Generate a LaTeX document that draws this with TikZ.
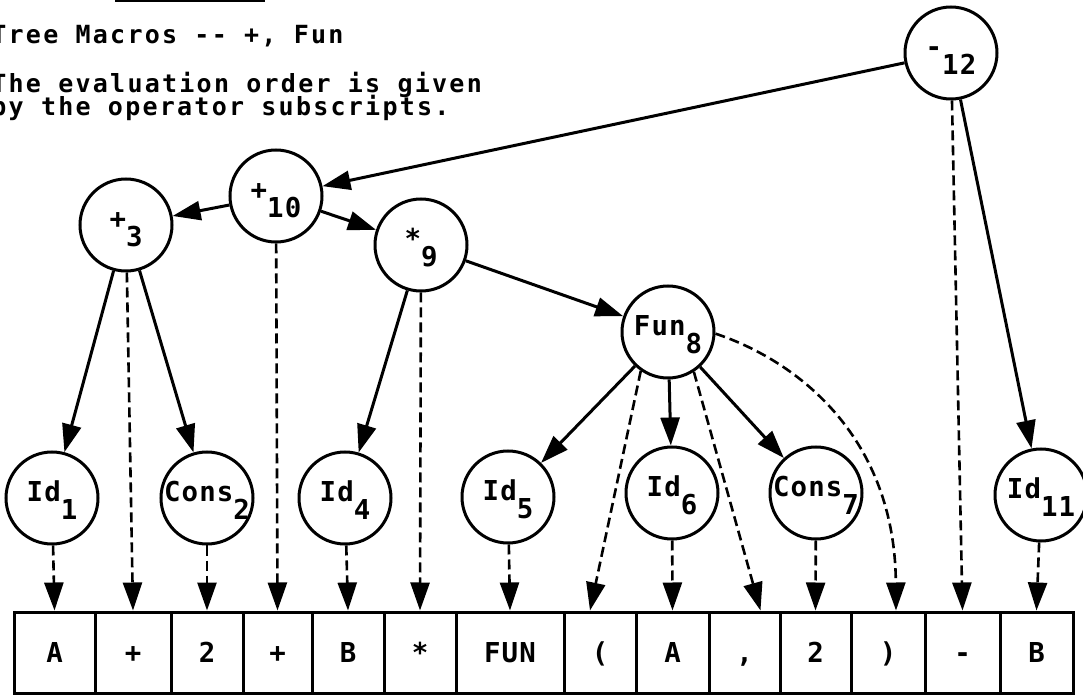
\documentclass[tikz,border=0pt]{standalone}
\usepackage{fontspec}
\setmonofont{DejaVu Sans Mono}[LetterSpace=4]
\newfontfamily\notefont{DejaVu Sans Mono}[LetterSpace=9]
\usetikzlibrary{arrows.meta}
\newcommand\opsub[2]{\makebox[0pt]{#1\raisebox{-9pt}{#2}}}
\tikzset{
  tw/.style={font=\ttfamily\bfseries\fontsize{13.7pt}{10pt}\selectfont},
  tnode/.style={circle, draw, line width=1.5pt, minimum size=46pt, inner sep=0pt,
    text height=12pt, text depth=8pt, tw},
  tokbox/.style={rectangle, draw, line width=1.5pt, minimum height=40.5pt, inner sep=0pt,
    text height=10pt, text depth=0pt, tw},
  arr/.style={-{Triangle[length=14pt,width=9.5pt]}, line width=1.5pt},
  darr/.style={arr, line width=1.3pt, dash pattern=on 5pt off 2.5pt},
  note/.style={font=\notefont\bfseries\fontsize{12.5pt}{10pt}\selectfont, anchor=base west, inner sep=0pt}
}
\begin{document}
\begin{tikzpicture}[x=0.5pt,y=-0.5pt]
\useasboundingbox (0,0) rectangle (1083,695);
\draw[line width=1.5pt] (115,1) -- (265,1); % rule of the heading above
\node[note] (note1) at (-9,44) {Tree Macros -{}- +, Fun};
\node[note] (note2) at (-9,93) {The evaluation order is given};
\node[note] (note3) at ([yshift=-11.5pt]note2.base west) {by the operator subscripts.};
% operator nodes
\node[tnode] (m12) at (951,53) {\opsub{-}{12}};
\node[tnode] (p10) at (276,196) {\opsub{+}{10}};
\node[tnode] (p3) at (126,225) {\opsub{+}{3}};
\node[tnode] (s9) at (421,245) {\opsub{*}{9}};
\node[tnode] (f8) at (668,332) {\opsub{Fun}{8}};
% leaf nodes
\node[tnode] (id1) at (52,498) {\opsub{Id}{1}};
\node[tnode] (cons2) at (207,498) {\opsub{Cons}{2}};
\node[tnode] (id4) at (345,498) {\opsub{Id}{4}};
\node[tnode] (id5) at (508,497) {\opsub{Id}{5}};
\node[tnode] (id6) at (672,493) {\opsub{Id}{6}};
\node[tnode] (cons7) at (816,493) {\opsub{Cons}{7}};
\node[tnode] (id11) at (1041,495) {\opsub{Id}{11}};
% token boxes: left edge/right edge/text
\foreach \l/\r/\t [count=\i] in {14/95/A, 95/171/+, 171/243/2, 243/312/+, 312/384/B,
    384/456/*, 456/564/FUN, 564/636/{(}, 636/709/A, 709/780/{,}, 780/851/2,
    851/925/{)}, 925/1000/-, 1000/1073/B}
  \node[tokbox, minimum width={(\r-\l)*0.5pt}] (b\i) at ({(\l+\r)/2},652.5) {\t};
% tree edges
\draw[arr] (m12) -- (p10);
\draw[arr] (p10) -- (p3);
\draw[arr] (p10) -- (s9);
\draw[arr] (s9) -- (f8);
\draw[arr] (p3) -- (id1);
\draw[arr] (p3) -- (cons2);
\draw[arr] (s9) -- (id4);
\draw[arr] (f8) -- (id5);
\draw[arr] (f8) -- (id6);
\draw[arr] (f8) -- (cons7);
\draw[arr] (m12) -- (id11);
% dashed links down to the tokens
\draw[darr] (id1) -- (b1.north);
\draw[darr] (p3) -- (b2.north);
\draw[darr] (cons2) -- (b3.north);
\draw[darr] (p10) -- (b4.north);
\draw[darr] (id4) -- (b5.north);
\draw[darr] (s9) -- (b6.north);
\draw[darr] (id5) -- (b7.north);
\draw[darr] (f8.235) -- ([xshift=-5pt]b8.north);
\draw[darr] (id6) -- (b9.north);
\draw[darr] (f8.-57) -- ([xshift=8pt]b10.north);
\draw[darr] (cons7) -- (b11.north);
\draw[darr] (f8.-2) .. controls +(84,28) and +(-1,-172) .. ([xshift=4pt]b12.north);
\draw[darr] (m12) -- (b13.north);
\draw[darr] (id11) -- (b14.north);
\end{tikzpicture}
\end{document}
